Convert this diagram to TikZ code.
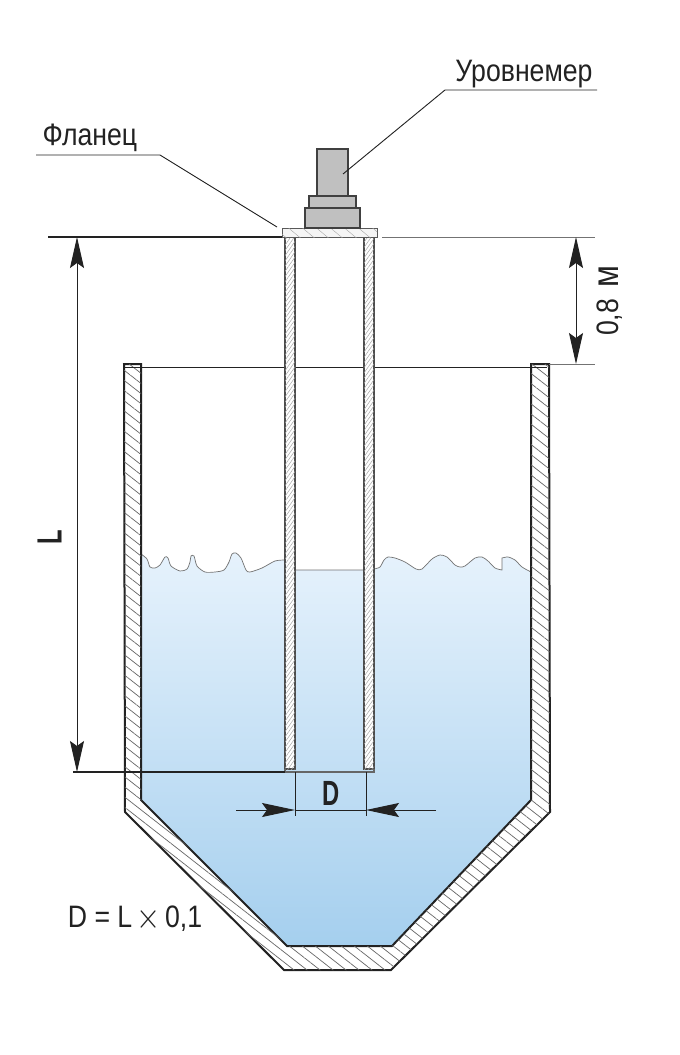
\documentclass[tikz,border=0pt]{standalone}
\usepackage{fontspec}
\setmainfont{Liberation Sans}
\usetikzlibrary{positioning,patterns.meta,arrows.meta}

\definecolor{watertop}{HTML}{E6F2FC}
\definecolor{waterbot}{HTML}{A5CFEE}
\definecolor{sensorgray}{HTML}{C0C0C0}
\definecolor{darkline}{HTML}{222222}

\tikzset{
  lbl/.style={inner sep=0pt,font=\fontsize{31}{31}\selectfont,text=darkline,xscale=.86,transform shape},
  boldlbl/.style={inner sep=0pt,font=\fontsize{35}{35}\selectfont\bfseries,text=darkline,xscale=.68,transform shape},
  sensorpart/.style={draw=black!75,line width=1.3pt,fill=sensorgray,inner sep=0pt,outer sep=0pt},
  wallhatch/.style={draw=darkline,line width=2pt,fill=white,postaction={pattern={Lines[angle=-38,distance=8pt,line width=.7pt]},pattern color=black!60}},
  pipehatch/.style={draw=black!70,line width=1.2pt,fill=white,postaction={pattern={Lines[angle=55,distance=3pt,line width=.5pt]},pattern color=black!35}},
  flangehatch/.style={draw=black!65,line width=1pt,fill=black!4,postaction={pattern={Lines[angle=-40,distance=9pt,line width=.4pt]},pattern color=black!35}},
  thinline/.style={draw=black!55,line width=.7pt},
  leader/.style={draw=darkline,line width=.9pt},
  dimarrow/.style={draw=darkline,line width=1pt,{Stealth[length=31pt,width=14pt,inset=5pt]}-{Stealth[length=31pt,width=14pt,inset=5pt]}},
  dimtip/.style={draw=darkline,line width=1pt,-{Stealth[length=33pt,width=14pt,inset=5pt]}}
}

\begin{document}
\begin{tikzpicture}[x=1pt,y=-1pt]
  \useasboundingbox (0,0) rectangle (680,1055);
  \fill[white] (0,0) rectangle (680,1055);

  % water
  \path[draw=black!55,line width=.7pt,top color=watertop,bottom color=waterbot]
    plot[smooth,tension=.45] coordinates {(141,554) (147,559) (150,567) (155,568) (160,565) (165,557) (168,558) (171,566) (180,571) (187,569) (190,562) (191,556) (194,556) (197,566) (205,572) (215,572) (224,570) (229,562) (232,554) (236,553) (241,558) (246,570) (250,572) (262,568) (275,561) (285,560)}
    -- (295,570) -- (364,570)
    -- plot[smooth,tension=.45] coordinates {(374,569) (380,567) (384,560) (388,557) (395,558) (405,562) (416,569) (422,569) (432,559) (440,555) (447,557) (455,565) (460,567) (465,566) (475,558) (482,557) (488,561) (495,568) (502,570)}
    -- plot[smooth,tension=.45] coordinates {(502,558) (508,557) (515,560) (522,567) (531,572)}
    -- (531,800) -- (392,946) -- (287,946) -- (141,800) -- cycle;

  % tank
  \path[wallhatch] (124,364) -- (141,364) -- (141,800) -- (287,946) -- (392,946) -- (531,800)
    -- (531,364) -- (549,364) -- (550,812) -- (391,970) -- (284,970) -- (125,812) -- cycle;

  % levels
  \coordinate (top_l) at (48,237);
  \coordinate (top_m) at (282,237);
  \coordinate (top_n) at (382,237);
  \coordinate (top_r) at (595,237);
  \coordinate (lev_l) at (125,367);
  \coordinate (lev_m) at (547,367);
  \coordinate (lev_n) at (549,364);
  \coordinate (lev_r) at (595,364);
  \coordinate (bot_l) at (73,772);
  \coordinate (bot_m) at (285,772);
  \draw[line width=.8pt,draw=darkline] (lev_l) -- (lev_m);
  \draw[line width=1.3pt,draw=darkline] (top_l) -- (top_m);
  \draw[thinline] (top_n) -- (top_r);
  \draw[thinline] (lev_n) -- (lev_r);

  % pipe
  \path[pipehatch] (285,237) rectangle (295,769);
  \path[pipehatch] (364,237) rectangle (374,769);
  \draw[line width=1.5pt,draw=black!60] (285,769) -- (285,772) -- (374,772) -- (374,769);
  \draw[line width=1.3pt,draw=darkline] (bot_l) -- (bot_m);

  % flange and sensor
  \path[flangehatch] (282,228) rectangle (377,237);
  \node (s_0) [sensorpart,minimum width=55pt,minimum height=20pt] at (332.5,218) {};
  \node (s_1) [sensorpart,minimum width=47pt,minimum height=12pt,above=0pt of s_0] {};
  \node (s_2) [sensorpart,minimum width=31pt,minimum height=47pt,above=0pt of s_1] {};

  % leaders
  \node (lbl_sensor) [lbl] at (524,74) {Уровнемер};
  \node (lbl_flange) [lbl] at (90,138) {Фланец};
  \coordinate (ls_0) at (597,90);
  \coordinate (ls_1) at (445,90);
  \coordinate (ls_2) at (343,174);
  \coordinate (lf_0) at (36,155);
  \coordinate (lf_1) at (160,155);
  \coordinate (lf_2) at (277,227);
  \draw[leader] (ls_0) -- (ls_1) -- (ls_2);
  \draw[leader] (lf_0) -- (lf_1) -- (lf_2);

  % dimensions
  \coordinate (l_top) at (77,237);
  \coordinate (l_bot) at (77,772);
  \coordinate (m_top) at (576,237);
  \coordinate (m_bot) at (576,364);
  \draw[dimarrow] (l_top) -- (l_bot);
  \draw[dimarrow] (m_top) -- (m_bot);
  \node (lbl_l) [rotate=90,boldlbl] at (49.5,537.5) {L};
  \node (lbl_m) [rotate=90,lbl] at (610,301) {0,8\hspace{4pt} {\fontsize{37}{37}\selectfont м}};

  \coordinate (d_lu) at (295,772);
  \coordinate (d_ld) at (295,816);
  \coordinate (d_ru) at (366,772);
  \coordinate (d_rd) at (366,816);
  \coordinate (d_l0) at (236,810);
  \coordinate (d_r0) at (436,810);
  \draw[line width=1pt,draw=darkline] (d_lu) -- (d_ld);
  \draw[line width=1pt,draw=darkline] (d_ru) -- (d_rd);
  \draw[line width=1pt,draw=darkline] (d_lu |- d_l0) -- (d_ru |- d_l0);
  \draw[dimtip] (d_l0) -- (d_lu |- d_l0);
  \draw[dimtip] (d_r0) -- (d_ru |- d_r0);
  \node (lbl_d) [boldlbl] at (331,793) {D};

  \node (lbl_f) [lbl] at (135,919) {D = L\hspace{5pt}\raisebox{-1pt}{\scalebox{1.45}{$\times$}}\hspace{5pt}0,1};
\end{tikzpicture}
\end{document}
